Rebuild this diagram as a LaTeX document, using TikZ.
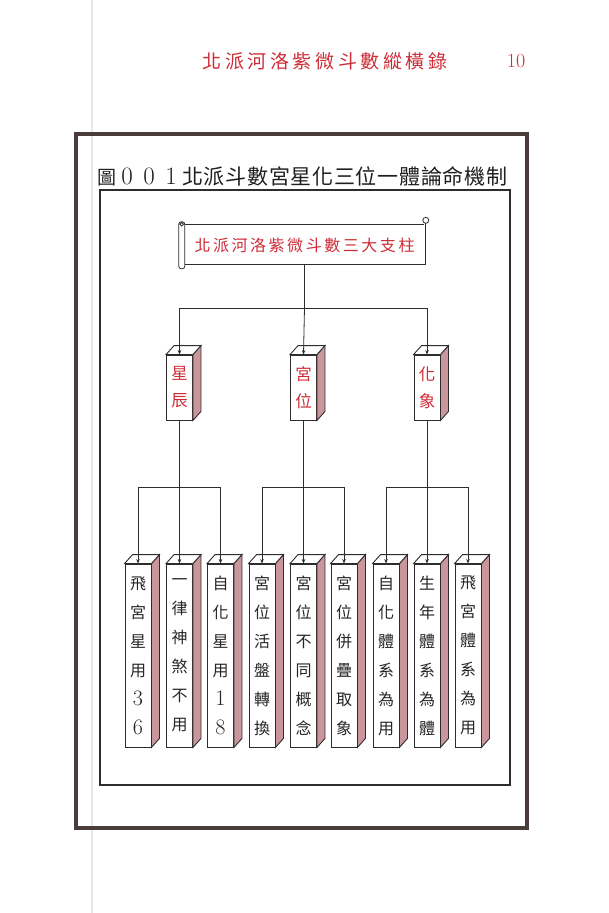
\documentclass[tikz,border=0pt]{standalone}
\usepackage{fontspec}
\newfontfamily\cjk{Noto Sans CJK TC}
\usetikzlibrary{calc,arrows.meta}
\definecolor{redtxt}{RGB}{205,45,55}
\definecolor{sideface}{RGB}{200,150,155}
\definecolor{framec}{RGB}{75,60,60}
\definecolor{linec}{RGB}{45,45,45}
\definecolor{faint}{RGB}{226,234,240}
\ExplSyntaxOn
\NewDocumentCommand\spreadtext{m m}
  {
    \bool_set_false:N \l_tmpa_bool
    \tl_map_inline:nn {#2}
      {
        \bool_if:NT \l_tmpa_bool { \hspace{#1} }
        ##1
        \bool_set_true:N \l_tmpa_bool
      }
  }
\ExplSyntaxOff
\newcommand\spanto[2]{\makebox[#1][s]{\spreadtext{0pt plus 1fil}{#2}}}
\newcommand\dg[1]{{\rmfamily\fontsize{22}{22}\selectfont #1}}
\newcommand\cubefaces[1]{%
  \filldraw[fill=sideface,draw=linec,line width=0.9pt] (#1.north east) -- ++(8,-9) -- ($(#1.south east)+(8,-9)$) -- (#1.south east) -- cycle;
  \filldraw[fill=white,draw=linec,line width=0.9pt] (#1.north west) -- ++(8,-9) -- ($(#1.north east)+(8,-9)$) -- (#1.north east) -- cycle;}
\begin{document}
\begin{tikzpicture}[x=1pt,y=-1pt,
  conn/.style={draw=linec, line width=0.8pt},
  arr/.style={conn, -{Stealth[length=4.5pt,width=3.5pt]}},
  facebox/.style={draw=linec, line width=0.9pt, fill=white, inner sep=0pt, align=center, minimum width=26pt},
  pillar/.style={facebox, minimum height=65pt, text=redtxt, font=\cjk\fontsize{16.5}{27}\selectfont},
  leaf/.style={facebox, minimum height=183pt, text=black!85, font=\cjk\fontsize{16}{29}\selectfont},
]
\useasboundingbox (0,0) rectangle (609,913);
\fill[white] (0,0) rectangle (609,913);
\draw[faint, line width=1.2pt] (92,0) -- (92,913);

% header
\node[text=redtxt, font=\cjk\fontsize{19}{19}\selectfont, inner sep=0pt] (head) at (325,61) {\spanto{245pt}{北派河洛紫微斗數縱橫錄}};
\node[text=redtxt, font=\fontsize{20}{20}\selectfont, inner sep=0pt] (pageno) at (516,61) {10};

% frames
\draw[framec, line width=3.5pt] (76,134) rectangle (527,828);
\draw[linec, line width=1.3pt] (100,190) rectangle (510,785);

% title
\node[anchor=west, inner sep=0pt, text=black!88, font=\cjk] (title) at (97,176)
  {{\fontsize{19}{19}\selectfont 圖}\makebox[22pt]{\rmfamily\fontsize{25}{25}\selectfont 0}\makebox[22pt]{\rmfamily\fontsize{25}{25}\selectfont 0}\makebox[22pt]{\rmfamily\fontsize{25}{25}\selectfont 1}{\fontsize{21}{21}\selectfont\spanto{325pt}{北派斗數宮星化三位一體論命機制}}};

% scroll
\node[minimum width=243pt, minimum height=40pt, inner sep=0pt, text=redtxt, font=\cjk\fontsize{16}{16}\selectfont] (scroll) at (304.5,245) {\spanto{220pt}{北派河洛紫微斗數三大支柱}};
\begin{scope}[shift={(scroll.north west)}, draw=linec, line width=0.8pt]
  \draw (0,0) -- (241,0);
  \draw (243,-2) -- (243,40) -- (0,40);
  \draw (243,-4.5) circle (3);
  \draw[rounded corners=2.5pt, fill=white] (-4,-3) rectangle (2,44);
  \draw (-1,-0.5) circle (1.8);
\end{scope}

% pillars
\node[pillar] (p1) at (179.5,387.5) {星\\辰};
\node[pillar] (p2) at (303.5,387.5) {宮\\位};
\node[pillar] (p3) at (427,387.5) {化\\象};
\cubefaces{p1}\cubefaces{p2}\cubefaces{p3}

% leaves
\node[leaf] (l1) at (138,655.5) {飛\\宮\\星\\用\\\dg{3}\\\dg{6}};
\node[leaf] (l2) at (179.5,655.5) {一\\律\\神\\煞\\不\\用};
\node[leaf] (l3) at (220.5,655.5) {自\\化\\星\\用\\\dg{1}\\\dg{8}};
\node[leaf] (l4) at (262,655.5) {宮\\位\\活\\盤\\轉\\換};
\node[leaf] (l5) at (303.5,655.5) {宮\\位\\不\\同\\概\\念};
\node[leaf] (l6) at (344,655.5) {宮\\位\\併\\疊\\取\\象};
\node[leaf] (l7) at (386,655.5) {自\\化\\體\\系\\為\\用};
\node[leaf] (l8) at (427,655.5) {生\\年\\體\\系\\為\\體};
\node[leaf] (l9) at (468,655.5) {飛\\宮\\體\\系\\為\\用};
\foreach \n in {l1,l2,l3,l4,l5,l6,l7,l8,l9} {\cubefaces{\n}}

% connectors
\coordinate (bar) at (0,308);
\coordinate (bar2) at (0,487);
\draw[conn] (scroll.south) -- (scroll.south |- bar);
\draw[conn] (p1.north |- bar) -- (p3.north |- bar);
\draw[arr] (p1.north |- bar) -- (p1.north);
\draw[arr] (scroll.south |- bar) -- (p2.north);
\draw[arr] (p3.north |- bar) -- (p3.north);

\draw[conn] (l1.north |- bar2) -- (l3.north |- bar2);
\draw[conn] (l4.north |- bar2) -- (l6.north |- bar2);
\draw[conn] (l7.north |- bar2) -- (l9.north |- bar2);
\draw[arr] (p1.south) -- (l2.north);
\draw[arr] (p2.south) -- (l5.north);
\draw[arr] (p3.south) -- (l8.north);
\foreach \n in {l1,l3,l4,l6,l7,l9} {\draw[arr] (\n.north |- bar2) -- (\n.north);}
\end{tikzpicture}
\end{document}
